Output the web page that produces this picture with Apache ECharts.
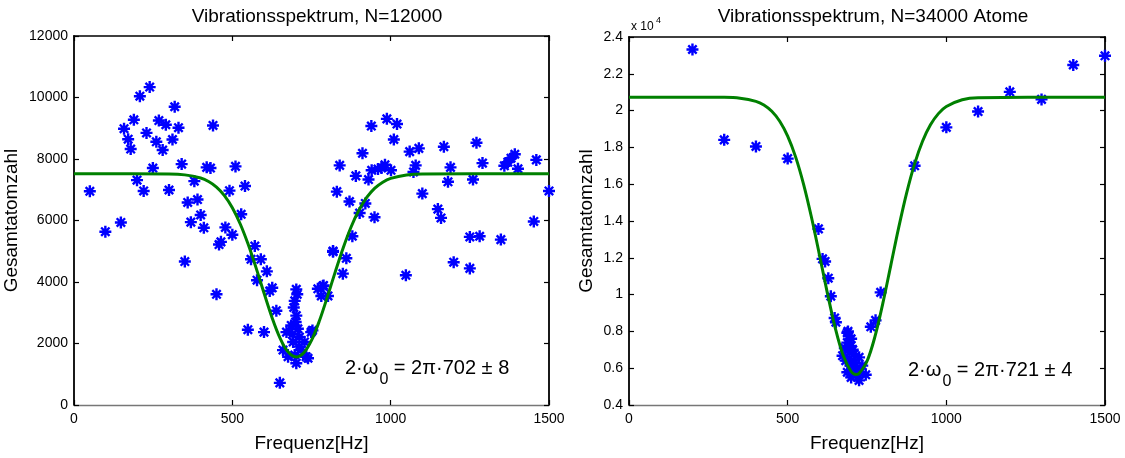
<!DOCTYPE html>
<html><head><meta charset="utf-8">
<script src="https://cdn.jsdelivr.net/npm/echarts@6/dist/echarts.min.js"></script>
<style>html,body{margin:0;padding:0;background:#fff;}#c{width:1125px;height:458px;}</style>
</head><body><div id="c"></div>
<script>
// ---- data ----
const titleLeft = 'Vibrationsspektrum, N=12000';
const titleRight = 'Vibrationsspektrum, N=34000 Atome';
const xName = 'Frequenz[Hz]';
const yName = 'Gesamtatomzahl';
const fitLeftText = '2π·702 ± 8';
const fitRightText = '2π·721 ± 4';

const leftFreq = [50,99,148,158,171,179,189,208,239,229,199,220,249,260,268,290,280,311,330,318,300,340,380,359,390,400,369,410,350,439,419,431,510,491,540,528,478,500,464,458,571,559,590,450,609,578,626,618,639,549,600,650,
702,697,694,702,686,707,671,712,692,728,660,718,697,733,702,749,676,739,753,705,700,710,690,
770,788,802,781,786,818,860,849,879,902,949,870,818,830,839,890,911,920,930,939,940,960,971,982,988,1001,1020,1010,1060,1089,1072,1079,1100,1149,1159,1168,1189,1181,1199,1250,1281,1260,1271,1290,1348,1359,1370,1380,1392,1402,1460,1452,1500,1250,1048];
const leftCount = [6950,5635,5936,8986,8643,8323,9274,10042,10339,8848,7312,6960,7706,8560,9251,9114,8291,8634,9018,9699,6992,7834,7280,6586,6682,6180,5946,5763,4666,9091,7728,7706,7760,6970,7120,6202,5776,5539,5306,5219,5168,4739,4739,3600,4346,4058,3811,3706,3066,2448,2371,720,
3760,3386,3171,2906,2586,2480,2371,2211,2051,2051,1786,1786,1626,1571,1360,2371,1571,1520,2426,3600,2700,1900,2300,
3779,3888,3546,3546,3866,4986,4771,4272,5488,6243,6106,6618,5008,6938,7792,7450,8186,6554,7331,9072,7632,7674,7706,7811,9306,7632,9136,8634,8240,8346,7578,7792,6874,6371,6084,8400,7728,7258,4643,5466,5488,7331,8528,7866,5379,7779,7898,8026,8154,7683,7971,5968,6960,4442,4218];

const rightFreq = [200,300,400,500,597,610,618,628,636,648,652,688,693,688,699,673,709,683,725,699,735,714,746,725,688,762,777,793,690,700,705,695,712,720,705,730,695,680,700,900,1000,1100,1200,1300,1400,1500];
const rightCount = [23320,18410,18050,17390,13570,11940,11800,10890,9910,8730,8500,7930,7750,7390,7210,6680,6770,6410,6590,6140,6140,5610,5640,5340,5780,8250,8600,10120,8000,7600,7000,6900,6300,6000,5900,5800,6500,7100,5500,17000,19090,19950,21020,20610,22480,22980];

const fitLeftFreq = [0,300,350,400,425,450,475,500,525,550,575,600,625,650,675,702,725,750,775,800,825,850,875,900,925,950,975,1000,1050,1100,1500];
const fitLeftCount = [7520,7512,7484,7382,7270,7088,6811,6417,5887,5225,4460,3642,2855,2190,1737,1560,1689,2101,2738,3513,4330,5109,5790,6340,6757,7051,7246,7368,7480,7511,7520];
const fitRightFreq = [0,300,350,400,425,450,475,500,525,550,575,600,625,650,675,700,716,725,750,775,800,825,850,875,900,925,950,975,1000,1050,1100,1500];
const fitRightCount = [20730,20720,20676,20504,20303,19963,19422,18614,17484,16004,14202,12175,10095,8184,6689,5821,5660,5711,6376,7714,9533,11590,13652,15529,17106,18332,19226,19835,20224,20592,20700,20730];

const leftYTicks = {min:0, max:12000, interval:2000};
const rightYTicks = {min:4000, max:24000, interval:2000};
const xTicks = {min:0, max:1500, interval:500};

// ---- build ----
const zip = (a,b) => a.map((v,i)=>[v,b[i]]);
const star = 'path://M8,0L12,0L12,20L8,20Z M0,8L20,8L20,12L0,12Z M1.6,4.4L4.4,1.6L18.4,15.6L15.6,18.4Z M15.6,1.6L18.4,4.4L4.4,18.4L1.6,15.6Z';
const FONT = 'Liberation Sans, Arial, Helvetica, sans-serif';

function xAx(grid, top){
  return {type:'value', gridIndex:grid, position: top?'top':'bottom', min:xTicks.min, max:xTicks.max, interval:xTicks.interval,
    splitLine:{show:false},
    axisLine:{show:true, onZero:false, lineStyle:{color: top?'#000':'#777', width: top?1.6:1.4}},
    axisTick:{show:true, inside:true, length:5, lineStyle:{color:'#000', width:1.2}},
    axisLabel:{show:!top, color:'#000', fontSize:14, fontFamily:FONT, margin:7, formatter:(v)=>String(v)},
    name: top?'':xName, nameLocation:'middle', nameGap:29,
    nameTextStyle:{color:'#000', fontSize:19, fontFamily:FONT}};
}
function yAx(grid, right, ticks, isRightPlot){
  return {type:'value', gridIndex:grid, position: right?'right':'left', min:ticks.min, max:ticks.max, interval:ticks.interval,
    splitLine:{show:false},
    axisLine:{show:true, onZero:false, lineStyle:{color:'#000', width: 1.8}},
    axisTick:{show:true, inside:true, length:5, lineStyle:{color:'#000', width:1.2}},
    axisLabel:{show:!right, color:'#000', fontSize:14, fontFamily:FONT, margin:6,
      formatter: isRightPlot ? (v)=> String(Math.round(v/1000)/10) : (v)=>String(v)},
    name: right?'':yName, nameLocation:'middle', nameGap: isRightPlot?33:53,
    nameTextStyle:{color:'#000', fontSize:19, fontFamily:FONT}};
}

const option = {
  animation:false,
  backgroundColor:'#fff',
  title:[
    {text:titleLeft, left:312, top:2, textAlign:'center', textStyle:{fontSize:19, fontWeight:'normal', color:'#000', fontFamily:FONT}},
    {text:titleRight, left:868, top:2, textAlign:'center', textStyle:{fontSize:19, fontWeight:'normal', color:'#000', fontFamily:FONT}}
  ],
  grid:[
    {left:74, top:36, width:475, height:375},
    {left:629, top:37, width:476, height:373}
  ],
  xAxis:[xAx(0,false), xAx(0,true), xAx(1,false), xAx(1,true)],
  yAxis:[yAx(0,false,leftYTicks,false), yAx(0,true,leftYTicks,false), yAx(1,false,rightYTicks,true), yAx(1,true,rightYTicks,true)],
  series:[
    {type:'scatter', xAxisIndex:0, yAxisIndex:0, data:zip(leftFreq,leftCount), symbol:star, symbolSize:12, itemStyle:{color:'#0000ff', opacity:1}, z:2},
    {type:'line', xAxisIndex:0, yAxisIndex:0, data:zip(fitLeftFreq,fitLeftCount), smooth:0.35, showSymbol:false, lineStyle:{color:'#008000', width:3}, z:3},
    {type:'scatter', xAxisIndex:2, yAxisIndex:2, data:zip(rightFreq,rightCount), symbol:star, symbolSize:12, itemStyle:{color:'#0000ff', opacity:1}, z:2},
    {type:'line', xAxisIndex:2, yAxisIndex:2, data:zip(fitRightFreq,fitRightCount), smooth:0.35, showSymbol:false, lineStyle:{color:'#008000', width:3}, z:3}
  ],
  graphic:[
    {type:'text', left:345, top:358, style:{text:'{a|2·ω}{s|0}{a| = '+fitLeftText+'}', fontFamily:FONT,
      rich:{a:{fontSize:20, fontFamily:FONT, lineHeight:24, verticalAlign:'top', fill:'#000'}, s:{fontSize:16, fontFamily:FONT, lineHeight:16, padding:[14,0,0,1], verticalAlign:'top', fill:'#000'}}}},
    {type:'text', left:908, top:360, style:{text:'{a|2·ω}{s|0}{a| = '+fitRightText+'}', fontFamily:FONT,
      rich:{a:{fontSize:20, fontFamily:FONT, lineHeight:24, verticalAlign:'top', fill:'#000'}, s:{fontSize:16, fontFamily:FONT, lineHeight:16, padding:[14,0,0,1], verticalAlign:'top', fill:'#000'}}}},
    {type:'text', left:631, top:21, style:{text:'x 10', fontSize:12, fontFamily:FONT, fill:'#000'}},
    {type:'text', left:656, top:16, style:{text:'4', fontSize:9, fontFamily:FONT, fill:'#000'}}
  ]
};
const chart = echarts.init(document.getElementById('c'), null, {renderer:'canvas'});
chart.setOption(option);
</script></body></html>
